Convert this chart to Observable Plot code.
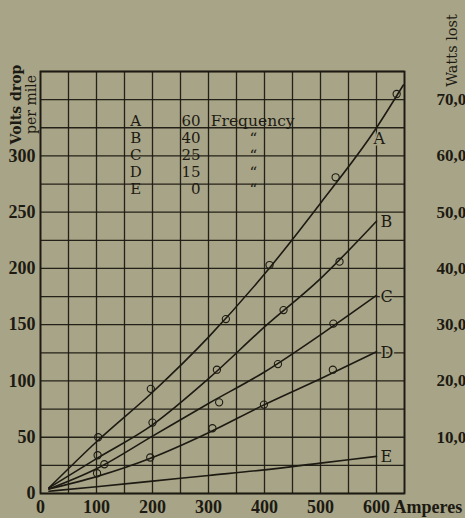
<!DOCTYPE html>
<html><head><meta charset="utf-8">
<script src="https://cdn.jsdelivr.net/npm/d3@7"></script>
<script src="https://cdn.jsdelivr.net/npm/@observablehq/plot@0.6"></script>
<style>
html,body{margin:0;padding:0;background:#a8a487;overflow:hidden;}
</style></head><body><div id="chart"></div>
<script>
const INK = "#1c1a12";
const BG = "#a8a487";

// Series and frequencies
const series = ["A", "B", "C", "D", "E"];
const freqs = ["60", "40", "25", "15", "0"];
const freqUnits = ["Frequency", "\u201C", "\u201C", "\u201C", "\u201C"];

// Curve sample points (Amperes -> Volts drop per mile)
const ampsCurve = [15, 100, 200, 300, 400, 500, 600];
const ampsCurveA = [15, 100, 200, 300, 400, 500, 600, 648];
const voltsA = [5, 46, 90, 139, 195, 258, 325, 363];
const voltsB = [5, 31, 61, 102, 148, 191, 242];
const voltsC = [4, 22, 51, 80, 108, 141, 176];
const voltsD = [4, 15, 32, 54, 79, 102, 126];
const voltsE = [2, 6, 11, 16, 21, 27, 33];

// Observed test points (open circles)
const obsAmpsA = [103, 197, 331, 409, 527, 636];
const obsVoltsA = [50, 93, 155, 203, 281, 355];
const obsAmpsB = [102, 200, 315, 434, 534];
const obsVoltsB = [34, 63, 110, 163, 206];
const obsAmpsC = [114, 319, 424, 523];
const obsVoltsC = [26, 81, 115, 151];
const obsAmpsD = [101, 196, 307, 399, 522];
const obsVoltsD = [18, 32, 58, 79, 110];

// Tick labels
const xTicks = [0, 100, 200, 300, 400, 500, 600];
const yTicks = [0, 50, 100, 150, 200, 250, 300];
const wattsTicks = [50, 100, 150, 200, 250, 300, 350]; // volts positions for 10,000 ... 70,000 watts

const curveAmps = {A: ampsCurveA, B: ampsCurve, C: ampsCurve, D: ampsCurve, E: ampsCurve};
const curveVolts = {A: voltsA, B: voltsB, C: voltsC, D: voltsD, E: voltsE};
const lineData = series.flatMap(s => curveAmps[s].map((a, i) => ({series: s, amps: a, volts: curveVolts[s][i]})));

const obsAmps = {A: obsAmpsA, B: obsAmpsB, C: obsAmpsC, D: obsAmpsD};
const obsVolts = {A: obsVoltsA, B: obsVoltsB, C: obsVoltsC, D: obsVoltsD};
const obsData = Object.keys(obsAmps).flatMap(s => obsAmps[s].map((a, i) => ({series: s, amps: a, volts: obsVolts[s][i]})));

const labelData = series.map(s => {
  const i = curveAmps[s].indexOf(600);
  return {series: s, amps: 600, volts: curveVolts[s][i]};
});

const legendData = series.map((s, i) => ({letter: s, freq: freqs[i], unit: freqUnits[i], row: i}));
const rowVolts = r => 331 - r * 15.2;

const serif = "DejaVu Serif, serif";
const timesB = "Liberation Serif, serif";

const chart = Plot.plot({
  width: 465,
  height: 518,
  marginLeft: 40,
  marginRight: 61,
  marginTop: 71,
  marginBottom: 25,
  style: {background: BG, color: INK, overflow: "visible"},
  x: {domain: [0, 650]},
  y: {domain: [0, 375]},
  marks: [
    Plot.ruleX(d3.range(0, 651, 50), {stroke: INK, strokeWidth: 1.3, strokeOpacity: 0.95}),
    Plot.ruleY(d3.range(0, 376, 25), {stroke: INK, strokeWidth: 1.3, strokeOpacity: 0.95}),
    Plot.frame({stroke: INK, strokeWidth: 1.8}),
    Plot.axisX(xTicks, {tickSize: 0, tickPadding: 7, fontFamily: timesB, fontWeight: "bold", fontSize: 18, fill: INK, label: null}),
    Plot.axisY(yTicks, {anchor: "left", tickSize: 0, tickPadding: 5, fontFamily: timesB, fontWeight: "bold", fontSize: 18, fill: INK, label: null}),
    Plot.axisY(wattsTicks, {anchor: "right", tickSize: 0, tickPadding: 32, fontFamily: timesB, fontWeight: "bold", fontSize: 17, fill: INK, label: null,
      tickFormat: d => d3.format(",")(d * 200)}),
    Plot.line(lineData, {x: "amps", y: "volts", z: "series", curve: "monotone-x", stroke: INK, strokeWidth: 1.6}),
    Plot.dot(obsData, {x: "amps", y: "volts", r: 3.6, stroke: INK, strokeWidth: 1.1, fill: "none"}),
    Plot.text(labelData.filter(d => d.series === "A"), {x: "amps", y: "volts", text: "series", textAnchor: "start",
      fontFamily: serif, fontSize: 16, fill: INK, stroke: BG, strokeWidth: 3, paintOrder: "stroke", dx: -3, dy: 11}),
    Plot.text(labelData.filter(d => d.series !== "A"), {x: "amps", y: "volts", text: "series", textAnchor: "start",
      fontFamily: serif, fontSize: 16, fill: INK, stroke: BG, strokeWidth: 3, paintOrder: "stroke", dx: 4, dy: 1}),
    // Legend table
    Plot.text(legendData, {x: 170, y: d => rowVolts(d.row), text: "letter", textAnchor: "middle", fontFamily: serif, fontSize: 15, fill: INK}),
    Plot.text(legendData, {x: 286, y: d => rowVolts(d.row), text: "freq", textAnchor: "end", fontFamily: serif, fontSize: 15, fill: INK}),
    Plot.text(legendData.filter(d => d.row === 0), {x: 304, y: d => rowVolts(d.row), text: "unit", textAnchor: "start", fontFamily: serif, fontSize: 15.5, fill: INK}),
    Plot.text(legendData.filter(d => d.row > 0), {x: 380, y: d => rowVolts(d.row), text: "unit", textAnchor: "middle", fontFamily: serif, fontSize: 15, fill: INK}),
    // Axis titles
    Plot.text(["Volts drop"], {frameAnchor: "top-left", textAnchor: "middle", lineAnchor: "middle", dx: -24, dy: 33, rotate: -90, fontFamily: serif, fontWeight: "bold", fontSize: 14, fill: INK}),
    Plot.text(["per mile"], {frameAnchor: "top-left", textAnchor: "middle", lineAnchor: "middle", dx: -9, dy: 33, rotate: -90, fontFamily: serif, fontSize: 14, fill: INK}),
    Plot.text(["Watts lost"], {frameAnchor: "top-right", textAnchor: "middle", lineAnchor: "middle", dx: 48, dy: -21, rotate: -90, fontFamily: serif, fontSize: 14.5, fill: INK}),
    Plot.text(["Amperes"], {x: 600, y: 0, dx: 17, dy: 14, textAnchor: "start", fontFamily: timesB, fontWeight: "bold", fontSize: 18, fill: INK})
  ]
});
document.getElementById("chart").appendChild(chart);
</script></body></html>
